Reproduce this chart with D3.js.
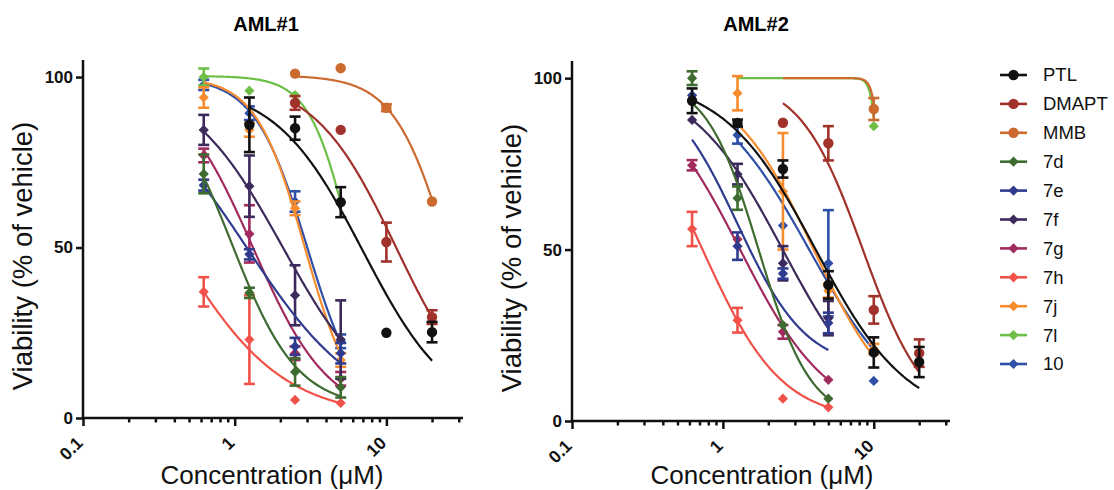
<!DOCTYPE html>
<html>
<head>
<meta charset="utf-8">
<script src="https://cdn.jsdelivr.net/npm/d3@7"></script>
<style>
  html, body { margin: 0; padding: 0; background: #ffffff; }
  svg { display: block; }
</style>
</head>
<body>
<svg id="chart" width="1114" height="490"></svg>
<script>
// ---------------- DATA ----------------
const concentrations = [0.625, 1.25, 2.5, 5, 10, 20];
const compounds = ["PTL", "DMAPT", "MMB", "7d", "7e", "7f", "7g", "7h", "7j", "7l", "10"];
const seriesColors = ["#111111", "#a1322b", "#cc6a30", "#3e6b30", "#2f3b8f", "#3d2a5c",
                      "#a12a5e", "#f0524a", "#f78c2e", "#6dbf45", "#3050a8"];
const markerShapes = ["circle", "circle", "circle", "diamond", "diamond", "diamond",
                      "diamond", "diamond", "diamond", "diamond", "diamond"];
const panelTitles = ["AML#1", "AML#2"];
const xTickLabels = [0.1, 1, 10];
const xMinorTicks = [0.2, 0.3, 0.4, 0.5, 0.6, 0.7, 0.8, 0.9, 2, 3, 4, 5, 6, 7, 8, 9, 20, 30];
const yTickLabels = [0, 50, 100];

// mean viability (% of vehicle), rows follow `compounds`, columns follow `concentrations`
const aml1Mean = [
  [null, 86, 85, 63.3, 25, 25.2],
  [null, null, 92.4, 84.5, 51.6, 29.6],
  [null, null, 101, 102.6, 91, 63.5],
  [71.6, 36.7, 13.5, 9, null, null],
  [68.3, 48, 21, 19, null, null],
  [84.5, 68, 36, 23, null, null],
  [77, 54, 19, 11.5, null, null],
  [37, 23, 5.3, 4.4, null, null],
  [94, 84.5, 61.5, 17, null, null],
  [100, 96, 94.7, null, null, null],
  [97.7, 89.4, 63.5, 22.5, null, null]
];
const aml1Err = [
  [null, 8, 3.4, 4.4, 0, 3],
  [null, null, 2, 0, 5.7, 2],
  [null, null, 0, 0, 1, 0],
  [5.7, 1.5, 4, 3, null, null],
  [1.6, 1.5, 2.5, 3, null, null],
  [4.4, 9, 8.8, 11.5, null, null],
  [2, 8.4, 2, 2, null, null],
  [4.3, 13, 0, 0, null, null],
  [3, 2, 2, 2, null, null],
  [2.5, 0, 0, null, null, null],
  [1.5, 2, 3, 2, null, null]
];
const aml2Mean = [
  [93.4, 86.9, 73.5, 39.7, 20, 17.2],
  [null, null, 87, 81, 32.4, 19.8],
  [null, null, null, null, 91, null],
  [100, 65, 28, 6.5, null, null],
  [95, 51, 43, 28.6, null, null],
  [87.8, 72, 46, 30, null, null],
  [74.6, 53, 26, 12, null, null],
  [56, 29.4, 6.5, 4, null, null],
  [null, 95.6, 67, 38, 21, null],
  [null, null, null, null, 86, null],
  [null, 83.4, 57, 46, 11.7, null]
];
const aml2Err = [
  [3.6, 1, 2.5, 4, 4.4, 4.4],
  [null, null, 0, 5, 4, 4],
  [null, null, null, null, 3.2, null],
  [2, 3.4, 0, 0, null, null],
  [0, 4, 1.5, 3, null, null],
  [0, 3, 5, 5, null, null],
  [1.5, 0, 2, 0, null, null],
  [5, 3.6, 0, 0, null, null],
  [null, 5, 17, 2, 1.5, null],
  [null, null, null, null, 0, null],
  [null, 2.5, 0, 15.5, 0, null]
];
// fitted dose-response parameters: [top, bottom, IC50 (uM), Hill slope, from, to]
const aml1Fit = [
  [98, 0, 7, 1.5, 1.25, 20],
  [100, 0, 11.6, 1.6, 2.5, 20],
  [100.5, 0, 25.2, 2.45, 2.5, 20],
  [100, 3, 0.95, 2, 0.625, 5],
  [100, 0, 1.2, 1.16, 0.625, 5],
  [100, 0, 2.08, 1.38, 0.625, 5],
  [100, 0, 1.32, 1.74, 0.625, 5],
  [100, 0, 0.405, 1.23, 0.625, 5],
  [100, 0, 2.9, 2.7, 0.625, 5],
  [100.3, 0, 5.9, 3.2, 0.625, 5],
  [100, 0, 3.01, 2.5, 0.625, 5]
];
const aml2Fit = [
  [100, 0, 4.12, 1.42, 0.625, 20],
  [100, 0, 8.46, 2.085, 2.5, 20],
  [100, 0, 11.5, 18, 2.5, 10],
  [100, 0, 1.724, 2.5, 0.625, 5],
  [100, 15, 1.25, 1.9, 0.625, 5],
  [100, 0, 2.49, 1.43, 0.625, 5],
  [100, 0, 1.3, 1.48, 0.625, 5],
  [100, 0, 0.733, 1.66, 0.625, 5],
  [100, 0, 4.0, 1.6, 1.25, 10],
  [100, 0, 11.2, 18, 1.25, 10],
  [100, 0, 3.73, 1.36, 1.25, 10]
];

// ---------------- LAYOUT ----------------
const FONT = "'Liberation Sans', Arial, Helvetica, sans-serif";
const panels = [
  { title: panelTitles[0], left: 83, right: 463, top: 60, bottom: 418, titleX: 266, yTitleX: 32, xTitleX: 272,
    mean: aml1Mean, err: aml1Err, fit: aml1Fit },
  { title: panelTitles[1], left: 572, right: 950, top: 61, bottom: 421, titleX: 756, yTitleX: 521, xTitleX: 762,
    mean: aml2Mean, err: aml2Err, fit: aml2Fit }
];

const svg = d3.select("#chart");
const diamond = d3.symbol().type(d3.symbolSquare).size(52);

function fourPL(p, x) {
  const [top, bottom, ic50, hill] = p;
  return bottom + (top - bottom) / (1 + Math.pow(x / ic50, hill));
}

function drawMarker(g, shape, cx, cy, color) {
  if (shape === "circle") {
    g.append("circle").attr("cx", cx).attr("cy", cy).attr("r", 5.2).attr("fill", color);
  } else {
    g.append("path").attr("d", diamond())
      .attr("transform", `translate(${cx},${cy}) rotate(45)`)
      .attr("fill", color);
  }
}

panels.forEach(P => {
  const x = d3.scaleLog().domain([0.1, 32]).range([P.left, P.right]);
  const y = d3.scaleLinear().domain([0, 105]).range([P.bottom, P.top]);
  const g = svg.append("g");

  // title
  g.append("text").attr("x", P.titleX).attr("y", 31).attr("text-anchor", "middle")
    .attr("font-family", FONT).attr("font-weight", "bold").attr("font-size", 20)
    .text(P.title);

  // series, drawn in reverse legend order so PTL ends on top
  const line = d3.line().x(d => x(d[0])).y(d => y(d[1]));
  for (let s = compounds.length - 1; s >= 0; s--) {
    const color = seriesColors[s];
    const fp = P.fit[s];
    const sg = g.append("g");
    if (fp) {
      const lo = Math.log10(fp[4]), hi = Math.log10(fp[5]);
      const pts = d3.range(0, 121).map(i => {
        const xv = Math.pow(10, lo + (hi - lo) * i / 120);
        return [xv, fourPL(fp, xv)];
      });
      sg.append("path").attr("d", line(pts)).attr("fill", "none")
        .attr("stroke", color).attr("stroke-width", 2.2);
    }
    concentrations.forEach((c, j) => {
      const m = P.mean[s][j];
      if (m === null || m === undefined) return;
      const e = P.err[s][j] || 0;
      const cx = x(c), cy = y(m);
      if (e > 0) {
        const y1 = y(m - e), y2 = y(m + e);
        sg.append("line").attr("x1", cx).attr("x2", cx).attr("y1", y1).attr("y2", y2)
          .attr("stroke", color).attr("stroke-width", 2.6);
        [y1, y2].forEach(yy => sg.append("line")
          .attr("x1", cx - 5.5).attr("x2", cx + 5.5).attr("y1", yy).attr("y2", yy)
          .attr("stroke", color).attr("stroke-width", 2.6));
      }
      drawMarker(sg, markerShapes[s], cx, cy, color);
    });
  }

  // axes
  const xAxis = d3.axisBottom(x).tickValues(xTickLabels).tickSize(8).tickSizeOuter(0).tickFormat("");
  const xg = g.append("g").attr("transform", `translate(0,${P.bottom})`).call(xAxis);
  const xMinor = d3.axisBottom(x).tickValues(xMinorTicks).tickSize(4.5).tickSizeOuter(0).tickFormat("");
  const xmg = g.append("g").attr("transform", `translate(0,${P.bottom})`).call(xMinor);
  xmg.select(".domain").remove();
  const yAxis = d3.axisLeft(y).tickValues(yTickLabels).tickSize(7).tickSizeOuter(0).tickPadding(3);
  const yg = g.append("g").attr("transform", `translate(${P.left},0)`).call(yAxis);
  [xg, xmg, yg].forEach(a => {
    a.selectAll("path, line").attr("stroke", "#111").attr("stroke-width", 2.5);
  });
  xg.select(".domain").attr("d", `M${P.left - 1.2},0H${P.right}`);
  yg.select(".domain").attr("d", `M0,${P.bottom + 1.2}V${P.top}`);
  yg.selectAll("text").attr("font-family", FONT).attr("font-weight", "bold")
    .attr("font-size", 17).attr("fill", "#111");

  // rotated x tick labels
  xTickLabels.forEach(v => {
    g.append("text")
      .attr("transform", `translate(${x(v) + 1},${P.bottom + 26}) rotate(-45)`)
      .attr("text-anchor", "end")
      .attr("font-family", FONT).attr("font-weight", "bold").attr("font-size", 17.5)
      .attr("fill", "#111")
      .text(String(v));
  });

  // axis titles
  g.append("text").attr("x", P.xTitleX).attr("y", 484).attr("text-anchor", "middle")
    .attr("font-family", FONT).attr("font-size", 26).attr("fill", "#111")
    .text("Concentration (\u03BCM)");
  g.append("text")
    .attr("transform", `translate(${P.yTitleX},${(P.top + P.bottom) / 2 + 17}) rotate(-90)`)
    .attr("text-anchor", "middle")
    .attr("font-family", FONT).attr("font-size", 27.5).attr("fill", "#111")
    .text("Viability (% of vehicle)");
});

// ---------------- LEGEND ----------------
const lg = svg.append("g");
compounds.forEach((name, i) => {
  const cy = 75 + i * 28.9;
  lg.append("line").attr("x1", 1000).attr("x2", 1027).attr("y1", cy).attr("y2", cy)
    .attr("stroke", seriesColors[i]).attr("stroke-width", 2.6);
  drawMarker(lg, markerShapes[i], 1013.5, cy, seriesColors[i]);
  lg.append("text").attr("x", 1043).attr("y", cy).attr("dy", "0.35em")
    .attr("font-family", FONT).attr("font-size", 18.5).attr("fill", "#111")
    .text(name);
});
</script>
</body>
</html>
